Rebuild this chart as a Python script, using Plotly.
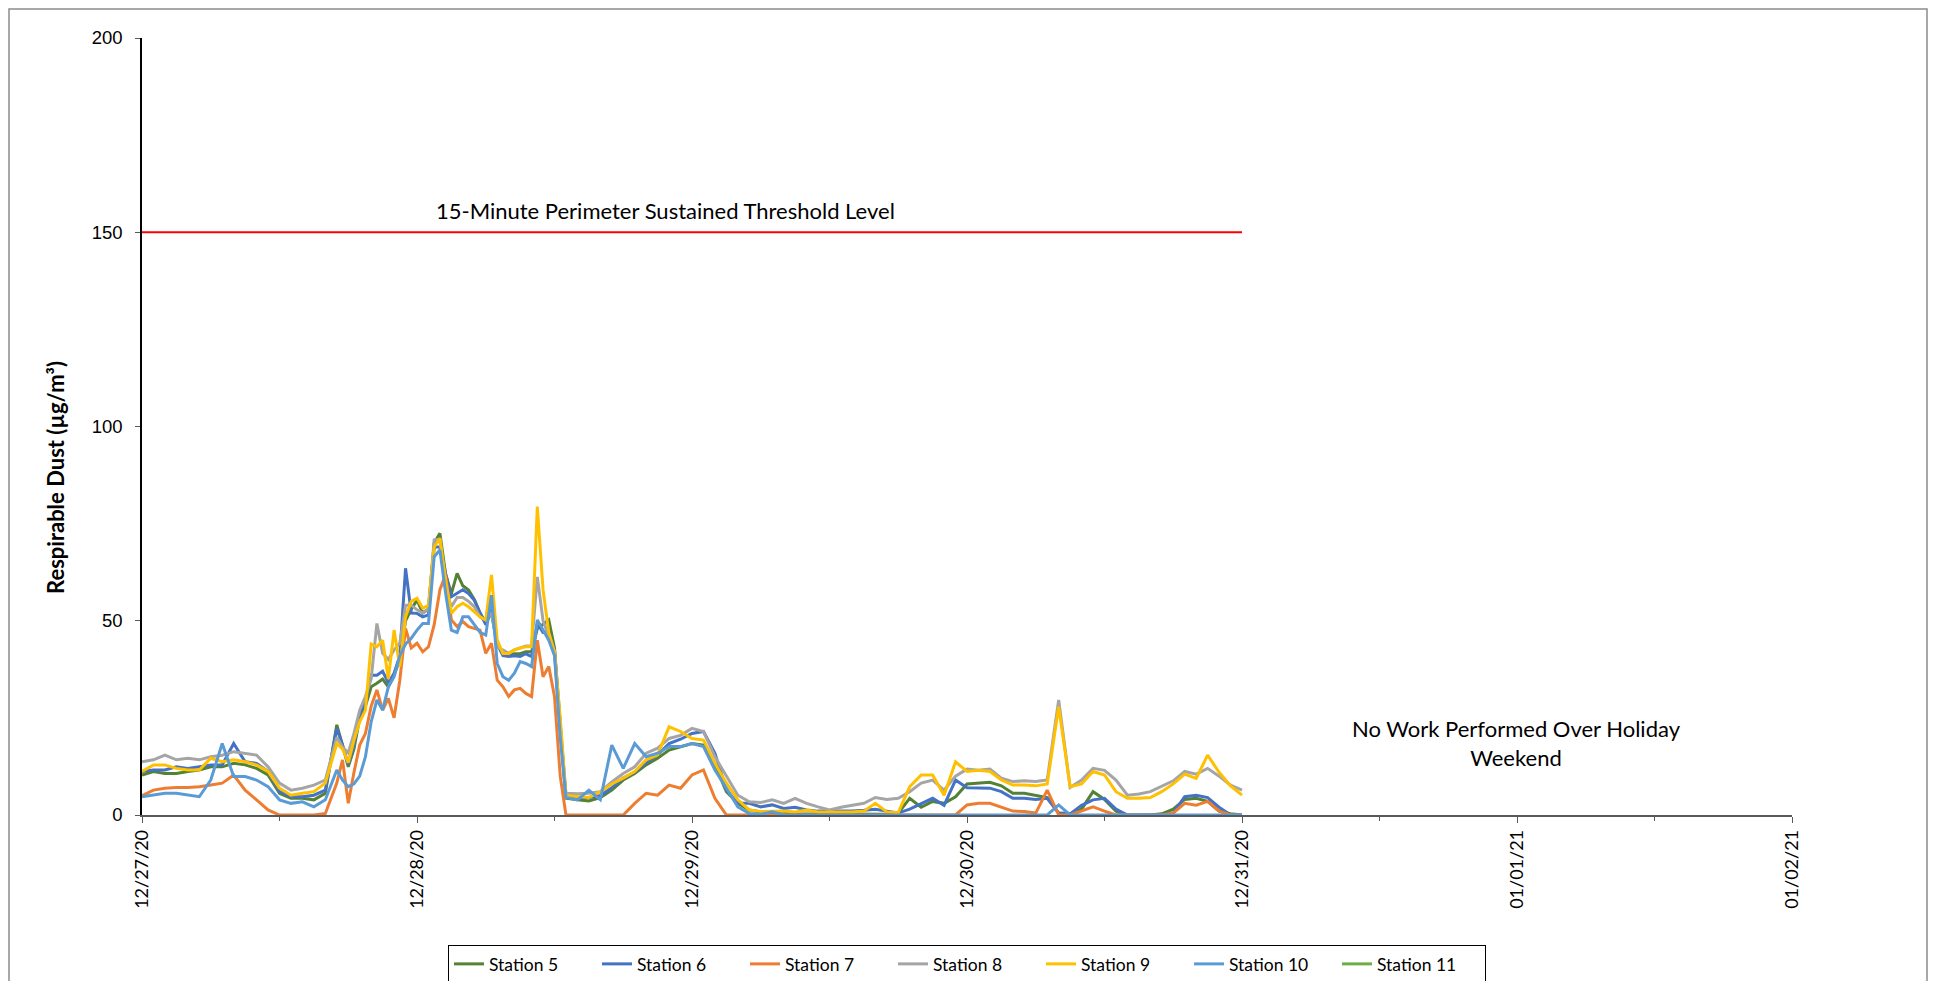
import pandas as pd
import plotly.graph_objects as go

# ---------------- data ----------------
start = "2020-12-27 00:00"
hours = (list(range(0, 17)) +
         [17 + 0.5 * i for i in range(41)] +
         list(range(38, 97)))

station5 = [10.3, 11.2, 10.7, 10.7, 11.2, 11.6, 12.4, 12.4, 13.3, 12.9, 12.0, 10.3, 5.6, 4.3, 4.3, 3.9, 5.6,
            23.2, 18.0, 12.4, 17.0, 25.0, 28.0, 33.0, 33.9, 35.0, 33.0, 36.0, 40.0, 50.0, 53.0, 55.3, 52.0,
            53.0, 70.0, 72.5, 62.0, 57.0, 62.2, 59.0, 57.9, 55.5, 52.0, 49.5, 52.0, 44.0, 41.5, 41.0, 41.5,
            41.5, 42.0, 42.0, 48.0, 49.0, 50.2, 43.0, 24.0, 4.3,
            3.9, 3.6, 4.5, 6.4, 9.0, 10.7, 12.9, 14.6, 16.7, 17.5, 18.4, 18.0, 12.9, 6.0, 3.0, 1.3, 0.8, 0.5,
            0.5, 0.3, 0.3, 0.3, 0.2, 0.2, 0.2, 0.3, 0.3, 0.2, 0.5, 4.3, 2.0, 3.5, 3.0, 4.7, 8.0, 8.2, 8.4,
            7.5, 5.6, 5.6, 5.0, 4.5, 0.5, 0.3, 1.5, 6.0, 4.0, 1.0, 0.0, 0.0, 0.0, 0.3, 1.5, 4.0, 4.3, 3.5,
            1.0, 0.3, 0.0]
station6 = [11.2, 11.6, 11.6, 12.4, 12.0, 12.4, 12.9, 12.9, 18.4, 13.7, 13.3, 11.2, 6.0, 4.7, 4.7, 5.1, 6.4,
            22.3, 18.0, 13.0, 18.0, 26.0, 29.0, 36.0, 36.0, 37.0, 34.0, 36.5, 41.0, 63.5, 52.0, 51.9, 51.0,
            51.5, 69.0, 69.0, 62.0, 56.2, 57.0, 58.0, 57.0, 55.3, 52.0, 49.0, 53.0, 44.0, 41.0, 40.8, 41.0,
            40.8, 41.5, 40.8, 49.3, 47.0, 47.0, 42.5, 22.0, 4.5,
            4.3, 4.5, 5.0, 7.0, 9.5, 11.0, 13.5, 15.5, 18.4, 19.5, 21.0, 21.5, 15.9, 6.5, 3.0, 3.0, 2.1, 2.6,
            1.7, 2.0, 1.3, 1.0, 1.0, 1.0, 1.0, 1.2, 1.5, 1.0, 0.5, 1.5, 3.0, 4.3, 2.5, 9.0, 7.0, 6.9, 6.9,
            6.0, 4.3, 4.3, 4.0, 4.3, 0.5, 0.3, 2.5, 3.9, 4.3, 1.5, 0.0, 0.0, 0.0, 0.0, 0.5, 4.7, 5.1, 4.5,
            2.0, 0.0, 0.0]
station7 = [5.0, 6.4, 6.9, 7.1, 7.1, 7.3, 7.7, 8.2, 10.3, 6.4, 3.9, 1.3, 0.0, 0.0, 0.0, 0.0, 0.4,
            8.2, 14.2, 3.0, 11.0, 18.0, 21.0, 28.0, 32.2, 27.0, 30.0, 25.0, 34.7, 48.0, 43.0, 44.2, 42.0,
            43.3, 49.0, 58.0, 61.8, 50.2, 48.5, 49.8, 48.5, 48.0, 47.6, 41.6, 44.2, 34.7, 33.0, 30.5, 32.2,
            32.6, 31.3, 30.5, 45.0, 35.6, 38.2, 30.5, 10.0, 0.0,
            0.0, 0.0, 0.0, 0.0, 0.0, 3.0, 5.6, 5.1, 7.7, 6.9, 10.3, 11.6, 4.3, 0.0, 0.0, 0.0, 0.0, 0.0,
            0.0, 0.0, 0.0, 0.0, 0.0, 0.0, 0.0, 0.0, 0.0, 0.0, 0.0, 0.0, 0.0, 0.0, 0.0, 0.0, 2.6, 3.0, 3.0,
            2.0, 1.0, 0.9, 0.5, 6.4, 0.0, 0.0, 1.0, 2.1, 1.0, 0.0, 0.0, 0.0, 0.0, 0.0, 0.5, 3.0, 2.5, 3.5,
            1.0, 0.0, 0.0]
station8 = [13.7, 14.2, 15.4, 14.2, 14.6, 14.2, 15.0, 15.4, 16.3, 15.9, 15.4, 12.4, 8.2, 6.4, 6.9, 7.7, 9.0,
            20.0, 17.5, 16.0, 21.0, 27.0, 30.5, 35.0, 49.3, 41.6, 40.0, 42.5, 44.2, 54.0, 54.0, 52.8, 52.0,
            53.0, 70.8, 71.0, 58.0, 53.6, 56.0, 56.0, 55.0, 53.6, 51.0, 50.2, 52.0, 43.3, 42.5, 41.6, 42.5,
            43.0, 43.5, 43.5, 61.3, 50.0, 46.0, 42.0, 22.0, 5.6,
            5.5, 5.6, 6.0, 8.5, 10.7, 12.4, 15.9, 17.2, 19.7, 20.5, 22.3, 21.5, 15.0, 9.9, 5.1, 3.4, 3.2, 3.9,
            3.0, 4.3, 3.0, 2.1, 1.3, 2.0, 2.5, 3.0, 4.5, 4.0, 4.3, 6.0, 8.2, 9.0, 6.4, 10.0, 11.8, 11.5, 11.8,
            9.5, 8.6, 8.8, 8.6, 9.0, 29.6, 7.1, 9.0, 12.0, 11.5, 9.0, 5.1, 5.4, 6.0, 7.5, 8.8, 11.2, 10.5, 12.0,
            10.0, 7.7, 6.4]
station9 = [11.2, 12.9, 12.9, 12.0, 11.6, 11.6, 14.6, 13.7, 14.2, 13.7, 12.9, 11.2, 6.9, 5.1, 5.6, 6.0, 8.2,
            18.4, 17.0, 13.5, 19.3, 24.0, 27.0, 44.0, 43.3, 45.0, 35.0, 47.6, 38.2, 51.0, 55.0, 55.8, 53.2,
            54.0, 69.0, 71.2, 60.5, 51.9, 53.6, 54.5, 53.6, 52.4, 51.0, 50.2, 61.8, 45.0, 41.6, 41.6, 42.5,
            43.0, 43.3, 43.3, 79.4, 58.0, 47.0, 42.0, 25.0, 5.0,
            4.7, 4.5, 6.0, 8.0, 9.5, 11.2, 14.2, 15.5, 22.7, 21.5, 19.7, 19.3, 13.3, 8.2, 3.9, 1.3, 0.9, 1.0,
            1.0, 0.8, 1.3, 0.8, 0.8, 0.8, 0.8, 1.0, 3.0, 0.8, 0.6, 7.3, 10.3, 10.3, 5.1, 13.7, 11.2, 11.5, 11.2,
            9.0, 7.7, 7.7, 7.5, 8.0, 27.9, 7.3, 8.0, 11.2, 10.3, 6.0, 4.3, 4.3, 4.5, 6.0, 8.0, 10.5, 9.4, 15.4,
            11.0, 7.5, 5.1]
station10 = [4.7, 5.1, 5.6, 5.6, 5.1, 4.7, 9.0, 18.4, 9.9, 9.9, 9.0, 7.3, 3.9, 3.0, 3.4, 2.1, 3.9,
             11.6, 9.0, 7.3, 8.0, 10.0, 15.0, 24.0, 29.6, 27.0, 33.0, 35.6, 41.0, 44.0, 45.5, 47.6, 49.3,
             49.3, 66.5, 68.2, 57.0, 47.6, 47.0, 51.0, 51.0, 49.0, 47.0, 46.3, 56.6, 39.0, 35.6, 34.7, 36.5,
             39.5, 39.0, 38.2, 50.2, 47.6, 45.0, 41.0, 20.0, 4.5,
             3.9, 6.4, 3.9, 18.0, 12.0, 18.4, 15.0, 15.9, 17.6, 17.6, 18.4, 17.6, 11.6, 6.9, 2.1, 0.4, 0.2, 0.8,
             0.0, 0.0, 0.0, 0.0, 0.0, 0.0, 0.0, 0.0, 0.0, 0.0, 0.0, 0.0, 0.0, 0.0, 0.0, 0.0, 0.0, 0.0, 0.0,
             0.0, 0.0, 0.0, 0.0, 0.0, 2.6, 0.0, 0.0, 0.0, 0.0, 0.0, 0.0, 0.0, 0.0, 0.0, 0.0, 0.0, 0.0, 0.0,
             0.0, 0.0, 0.0]
station11 = []

names = ["Station 5", "Station 6", "Station 7", "Station 8", "Station 9", "Station 10", "Station 11"]
colors = ["#548235", "#4472C4", "#ED7D31", "#A5A5A5", "#FFC000", "#5B9BD5", "#70AD47"]
series = [station5, station6, station7, station8, station9, station10, station11]

threshold_value = 150
threshold_dates = ["2020-12-27", "2020-12-31"]
x_range = ["2020-12-27", "2021-01-02"]

times = pd.to_datetime(start) + pd.to_timedelta(hours, unit="h")

fig = go.Figure()
for name, col, vals in zip(names, colors, series):
    if len(vals):
        fig.add_trace(go.Scatter(x=times, y=vals, mode="lines", name=name,
                                 line=dict(color=col, width=3)))
    else:
        fig.add_trace(go.Scatter(x=[None], y=[None], mode="lines", name=name,
                                 line=dict(color=col, width=3)))

fig.add_trace(go.Scatter(x=threshold_dates, y=[threshold_value, threshold_value], mode="lines",
                         line=dict(color="#FF0000", width=2), showlegend=False, hoverinfo="skip"))

calib = "Lato, 'Open Sans', sans-serif"

# page body has an 8px margin: figure coordinates = screen coordinates - 8
PX0, PX1, PY0, PY1 = 142, 1792, 38, 815   # plot area in screen pixels
W, H = 1921, 973


def px(sx):
    return (sx - PX0) / (PX1 - PX0)


def py(sy):
    return (PY1 - sy) / (PY1 - PY0)


fig.update_layout(
    width=W, height=H,
    margin=dict(l=PX0 - 8, r=W - (PX1 - 8), t=PY0 - 8, b=H - (PY1 - 8), autoexpand=False),
    paper_bgcolor="white", plot_bgcolor="white",
    showlegend=True,
    legend=dict(orientation="h", x=0.5, xanchor="center", y=py(945), yanchor="top",
                bordercolor="#000000", borderwidth=1, font=dict(family=calib, size=17.5, color="#000"),
                entrywidth=103, entrywidthmode="pixels", itemwidth=30, traceorder="normal"),
    xaxis=dict(type="date", range=x_range, dtick=86400000, tick0="2020-12-27",
               tickformat="%m/%d/%y", tickangle=-90, ticks="outside", ticklen=6, tickcolor="#595959",
               showline=True, linecolor="#595959", linewidth=1.5, showgrid=False, zeroline=False,
               tickfont=dict(family=calib, size=18, color="#000"),
               minor=dict(dtick=43200000, ticks="outside", ticklen=4, tickcolor="#595959", showgrid=False)),
    yaxis=dict(range=[0, 200], dtick=50, ticks="outside", ticklen=5, tickcolor="#595959",
               showline=True, linecolor="#000000", linewidth=1.5, showgrid=False, zeroline=False,
               ticklabelstandoff=9,
               tickfont=dict(family="Liberation Sans, Arial, sans-serif", size=18.5, color="#000")),
    annotations=[
        dict(text="15-Minute Perimeter Sustained Threshold Level", xref="paper", yref="paper",
             x=px(665), y=py(211), xanchor="center", yanchor="middle", showarrow=False,
             font=dict(family=calib, size=22, color="#000")),
        dict(text="No Work Performed Over Holiday<br>Weekend", xref="paper", yref="paper",
             x=px(1516), y=py(743), xanchor="center", yanchor="middle", showarrow=False,
             font=dict(family=calib, size=22, color="#000")),
        dict(text="<b>Respirable Dust (µg/m³)</b>", xref="paper", yref="paper",
             x=px(55), y=py(478), xanchor="center", yanchor="middle", showarrow=False, textangle=-90,
             font=dict(family=calib, size=22, color="#000")),
    ],
    shapes=[
        dict(type="rect", xref="paper", yref="paper",
             x0=px(9), x1=px(1927), y0=py(1010), y1=py(9),
             line=dict(color="#8c8c8c", width=1.5), fillcolor="rgba(0,0,0,0)", layer="below"),
    ],
)

fig.write_html("out.html")
